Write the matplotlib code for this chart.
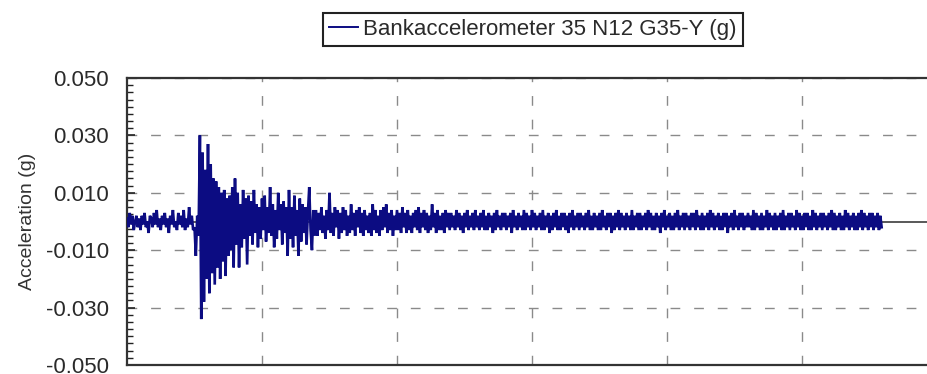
import numpy as np
import matplotlib
matplotlib.use("Agg")
import matplotlib.pyplot as plt
from matplotlib.ticker import MultipleLocator, FormatStrFormatter

plt.rcParams["font.family"] = ["Liberation Sans", "DejaVu Sans"]

# Sampling interval of the record (s)
dt = 0.1

# Acceleration samples in milli-g, split by phase of the record
pre_event_mg = [
    1, -2, 3, -1, 2, -3, 0, 2, -2, 1, -3, 2, -1, 3, -2, 0, -4, 2, 1, -2,
    3, -1, 4, -2, 1, -3, 2, -1, 3, -2, 1, -4, 2, -1, 4, -2, 0, -3, 3, -1,
    2, -2, 4, -3, 1, -2, 5, -1, 2, -3,
]

strong_motion_mg = [
    -2, -12, 2, -5, 30, -34, 24, -28, 18, -20,
    27, -25, 20, -18, 15, -22, 14, -16, 12, -20,
    10, -14, 11, -19, 8, -12, 9, -10, 12, -16,
    15, -8, 10, -16, 6, -9, 11, -6, 8, -15,
    9, -5, 7, -8, 11, -4, 6, -9, 5, -6,
    8, -3, 9, -7, 5, -4, 12, -5, 6, -9,
    4, -6, 10, -3, 6, -8, 7, -4, 5, -12,
    11, -6, 5, -9, 9, -5, 4, -12, 8, -7,
    6, -4, 5, -8, 3, 12, -3, -10, 4, -5,
]

coda_mg = [
    4, -5, 3, -3, 5, -4, 2, -6, 4, -3, 10, -4, 3, -5, 5, -2, 4, -6, 3, -4,
    5, -3, 4, -5, 2, -4, 6, -3, 3, -5, 4, -2, 5, -4, 3, -5, 4, -3, 2, -4,
    3, -5, 6, -3, 4, -4, 2, -5, 4, -3, 5, -2, 6, -4, 3, -3, 4, -5, 2, -3,
    4, -3, 3, -4, 5, -2, 3, -4, 4, -3, 2, -4, 3, -2, 4, -3, 5, -4, 3, -2,
    4, -3, 3, -4, 2, -3, 6, -2, 3, -4, 4, -3, 2, -3, 3, -4, 4, -2, 3, -3,
]

ambient_mg = [
    3, -2, 2, -3, 4, -2, 3, -3, 2, -4, 3, -2, 4, -3, 2, -2, 3, -3, 4, -2,
    2, -3, 3, -2, 4, -3, 2, -3, 3, -2, 2, -4, 3, -3, 4, -2, 2, -3, 3, -2,
    3, -3, 2, -2, 3, -4, 4, -2, 2, -3, 3, -2, 2, -3, 4, -3, 3, -2, 2, -3,
    4, -2, 3, -3, 2, -2, 3, -3, 4, -3, 2, -2, 3, -4, 2, -3, 3, -2, 4, -3,
    2, -3, 3, -2, 3, -3, 2, -4, 3, -2, 4, -3, 2, -2, 3, -3, 3, -2, 2, -3,
    3, -2, 4, -3, 2, -3, 3, -2, 2, -3, 3, -3, 4, -2, 2, -3, 3, -2, 3, -4,
    2, -3, 3, -2, 4, -3, 3, -2, 2, -3, 3, -2, 2, -3, 4, -3, 2, -2, 3, -3,
    3, -3, 2, -2, 3, -3, 4, -2, 3, -3, 2, -3, 3, -2, 2, -4, 3, -2, 4, -3,
    2, -2, 3, -3, 2, -3, 3, -2, 4, -3, 2, -2, 3, -3, 3, -2, 2, -3, 3, -2,
    3, -3, 4, -2, 2, -3, 3, -3, 2, -2, 3, -3, 4, -2, 3, -3, 2, -2, 3, -3,
    2, -3, 3, -2, 3, -4, 2, -2, 3, -3, 4, -2, 2, -3, 3, -2, 3, -3, 2, -2,
    3, -2, 2, -3, 4, -3, 3, -2, 2, -3, 3, -3, 2, -2, 4, -3, 3, -2, 2, -3,
    3, -3, 2, -2, 3, -3, 4, -3, 2, -2, 3, -3, 3, -2, 2, -3, 4, -2, 3, -3,
    2, -3, 3, -2, 3, -3, 2, -3, 4, -2, 3, -3, 2, -2, 3, -3, 3, -2, 2, -3,
    3, -2, 4, -3, 3, -3, 2, -2, 3, -3, 2, -3, 4, -2, 3, -3, 2, -2, 3, -3,
    2, -3, 3, -2, 4, -3, 3, -2, 2, -3, 3, -2, 3, -3, 2, -2, 3, -3, 2, -2,
]

series_label = "Bankaccelerometer 35 N12 G35-Y (g)"
y_label = "Acceleration (g)"
y_ticks = [-0.05, -0.03, -0.01, 0.01, 0.03, 0.05]
x_grid = [10, 20, 30, 40, 50]
x_range = (0, 60)

acc_g = np.array(pre_event_mg + strong_motion_mg + coda_mg + ambient_mg) / 1000.0
t = np.arange(acc_g.size) * dt

W, H = 927, 374
fig = plt.figure(figsize=(W / 100, H / 100), dpi=100)
fig.patch.set_facecolor("white")
ax = fig.add_axes([127 / W, 1 - 365 / H, 810 / W, 287 / H])

ax.axhline(0, color="#3c3c3c", lw=1.2, zorder=1)
line, = ax.plot(t, acc_g, color="#0c0c82", lw=1.9, zorder=3,
                solid_joinstyle="miter", label=series_label)

ax.set_xlim(*x_range)
ax.set_ylim(-0.05, 0.05)
ax.set_yticks(y_ticks)
ax.yaxis.set_major_formatter(FormatStrFormatter("%.3f"))
ax.yaxis.set_minor_locator(MultipleLocator(0.0025))
ax.set_xticks(x_grid)
ax.tick_params(axis="x", length=0, labelbottom=False)
ax.tick_params(axis="y", which="both", direction="in", color="#222222",
               labelsize=16, labelcolor="#2a2a2a", pad=13)
ax.tick_params(axis="y", which="major", length=6, width=1.2)
ax.tick_params(axis="y", which="minor", length=4, width=1.0)

ax.grid(True, which="major", color="#8a8a8a", lw=1.0, linestyle=(0, (7, 10)))
ax.set_axisbelow(True)

for sp in ax.spines.values():
    sp.set_color("#333333")
    sp.set_linewidth(1.6)

ax.set_ylabel(y_label, fontsize=14, color="#333333")
ax.yaxis.set_label_coords(-0.112, 0.5)

leg = fig.legend(handles=[line], loc="center",
                 bbox_to_anchor=(533 / W, 1 - 29.5 / H),
                 frameon=True, fancybox=False, edgecolor="#222222",
                 framealpha=1, fontsize=16, handlelength=1.3,
                 handletextpad=0.25, borderpad=0.25)
leg.get_frame().set_linewidth(1.5)
leg.get_lines()[0].set_linewidth(1.4)
for txt in leg.get_texts():
    txt.set_color("#2a2a2a")

fig.savefig("out.png", dpi=100)
